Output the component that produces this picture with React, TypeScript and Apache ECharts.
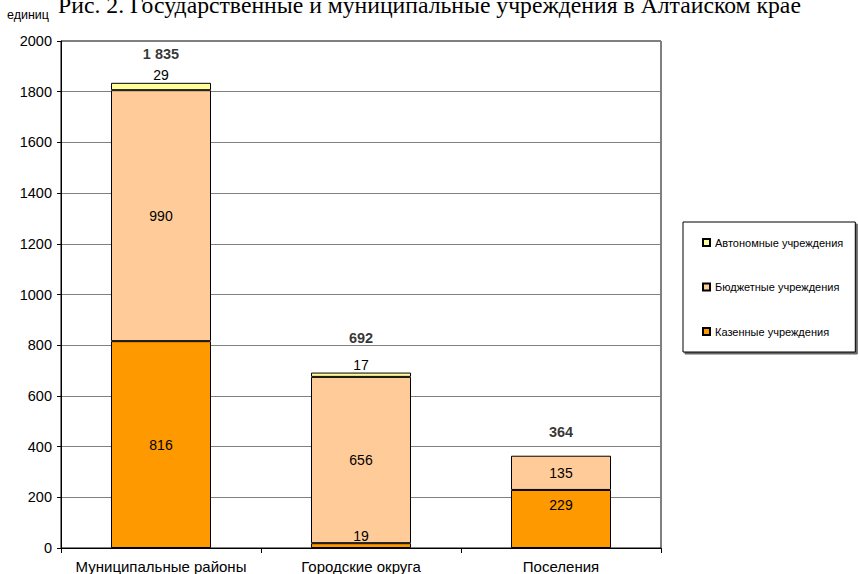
import React, { useEffect, useRef } from "react";
import * as echarts from "echarts";

const categories = ["Муниципальные районы", "Городские округа", "Поселения"];
const kazennye = [816, 19, 229];
const byudzhetnye = [990, 656, 135];
const avtonomnye: (number | null)[] = [29, 17, null];
const totals = [1835, 692, 364];
const seriesNames = ["Казенные учреждения", "Бюджетные учреждения", "Автономные учреждения"];
const titleText = "Рис. 2. Государственные и муниципальные учреждения в Алтайском крае";
const unitText = "единиц";

const FONT = "'Liberation Sans', Arial, sans-serif";

export default function App() {
  const ref = useRef<HTMLDivElement>(null);
  useEffect(() => {
    if (!ref.current) return;
    const chart = echarts.init(ref.current, undefined, { renderer: "svg" });
    const labelBase = { show: true, color: "#000", fontSize: 14, fontFamily: FONT };
    chart.setOption({
      animation: false,
      backgroundColor: "#fff",
      textStyle: { fontFamily: FONT },
      graphic: [
        {
          type: "text",
          left: "center",
          top: -7,
          style: { text: titleText, fontFamily: "'Liberation Serif', 'Times New Roman', serif", fontSize: 23.7, fill: "#000" },
        },
        {
          type: "text",
          left: 7,
          top: 8,
          style: { text: unitText, fontFamily: FONT, fontSize: 12.5, fill: "#000" },
        },
      ],
      grid: {
        left: 61,
        right: 198,
        top: 41,
        bottom: 26,
        show: true,
        borderColor: "#000",
        borderWidth: 1,
        backgroundColor: "transparent",
      },
      legend: {
        orient: "vertical",
        left: 683,
        top: 222,
        padding: [15, 12, 15, 19],
        itemWidth: 7,
        itemHeight: 7,
        itemGap: 33.5,
        backgroundColor: "#fff",
        borderColor: "#000",
        borderWidth: 1,
        icon: "rect",
        data: [seriesNames[2], seriesNames[1], seriesNames[0]],
        textStyle: { fontSize: 11, color: "#000", fontFamily: FONT },
        shadowColor: "rgba(0,0,0,0.6)",
        shadowOffsetX: 2,
        shadowOffsetY: 2,
      },
      xAxis: {
        type: "category",
        data: categories,
        axisLine: { lineStyle: { color: "#000", width: 1 } },
        axisTick: { show: true, alignWithLabel: false, length: 5, lineStyle: { color: "#000" } },
        axisLabel: { color: "#000", fontSize: 15, margin: 11, fontFamily: FONT, interval: 0 },
        splitLine: { show: false },
      },
      yAxis: {
        type: "value",
        min: 0,
        max: 2000,
        interval: 200,
        axisLine: { show: true, lineStyle: { color: "#000", width: 1 } },
        axisTick: { show: true, length: 4, lineStyle: { color: "#000" } },
        axisLabel: {
          color: "#000",
          fontSize: 14.5,
          margin: 9,
          fontFamily: FONT,
          formatter: (v: number) => String(v),
        },
        splitLine: { show: true, lineStyle: { color: "#808080", width: 1 } },
      },
      series: [
        {
          name: seriesNames[0],
          type: "bar",
          stack: "total",
          barWidth: "50%",
          itemStyle: { color: "#FF9900", borderColor: "#000", borderWidth: 1 },
          label: { ...labelBase, position: "inside" },
          data: kazennye.map((v, i) => {
            if (i === 1) return { value: v, label: { position: "top", distance: 0 } };
            if (i === 2) return { value: v, label: { position: "insideTop", distance: 8 } };
            return v;
          }),
        },
        {
          name: seriesNames[1],
          type: "bar",
          stack: "total",
          barWidth: "50%",
          itemStyle: { color: "#FFCC99", borderColor: "#000", borderWidth: 1 },
          label: { ...labelBase, position: "inside" },
          data: byudzhetnye,
        },
        {
          name: seriesNames[2],
          type: "bar",
          stack: "total",
          barWidth: "50%",
          itemStyle: { color: "#FFFF99", borderColor: "#000", borderWidth: 1 },
          label: { ...labelBase, position: "top", distance: 1 },
          data: avtonomnye.map((v) => (v == null ? "-" : v)),
        },
        {
          name: "total",
          type: "scatter",
          symbolSize: 1,
          itemStyle: { color: "transparent" },
          silent: true,
          label: {
            show: true,
            position: "top",
            color: "#000",
            fontSize: 14.5,
            fontWeight: "bold",
            fontFamily: FONT,
            formatter: (p: any) => String(p.value).replace(/\B(?=(\d{3})+(?!\d))/g, " "),
          },
          data: totals.map((v, i) => ({ value: v, label: { distance: [21, 27, 16][i] } })),
        },
      ],
    });
    return () => chart.dispose();
  }, []);
  return <div ref={ref} style={{ position: "fixed", left: 0, top: 0, width: 859, height: 574 }} />;
}
